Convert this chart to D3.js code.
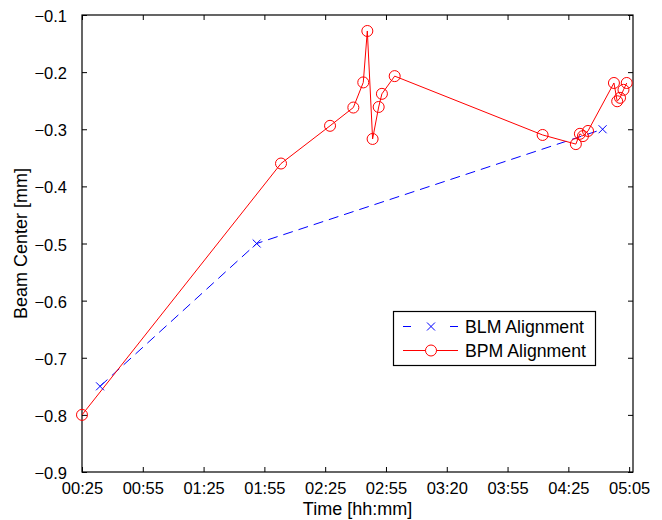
<!DOCTYPE html>
<html>
<head>
<meta charset="utf-8">
<script src="https://cdn.jsdelivr.net/npm/d3@7"></script>
<style>
  body { margin: 0; background: #fff; }
  svg text { font-family: "Liberation Sans", Arial, Helvetica, sans-serif; fill: #000; }
</style>
</head>
<body>
<svg id="chart" width="662" height="520"></svg>
<script>
// ---- data (time in minutes after midnight) ----
const blmTime  = [33.9, 111.2, 281.9];
const blmValue = [-0.75, -0.50, -0.30];

const bpmTime  = [25, 123.2, 147.4, 158.9, 163.8, 165.8, 168.4, 171.4, 173.0, 179.3,
                  252.3, 268.7, 270.7, 272.2, 274.7, 287.5, 289.1, 290.5, 292.2, 293.8];
const bpmValue = [-0.80, -0.36, -0.294, -0.262, -0.218, -0.128, -0.317, -0.261, -0.238, -0.207,
                  -0.310, -0.326, -0.308, -0.312, -0.303, -0.219, -0.251, -0.245, -0.231, -0.219];

const xTickValues = [25, 55, 85, 115, 145, 175, 205, 235, 265, 295];
const xTickLabels = ["00:25", "00:55", "01:25", "01:55", "02:25", "02:55", "03:20", "03:55", "04:25", "05:05"];
const yTickValues = [-0.9, -0.8, -0.7, -0.6, -0.5, -0.4, -0.3, -0.2, -0.1];

const seriesNames = ["BLM Alignment", "BPM Alignment"];

// ---- layout ----
const svg = d3.select("#chart");
const L = 82, R = 633, T = 15, B = 472;
const fsTick = 16.5, fsLabel = 18, fsLegend = 17.7;

const x = d3.scaleLinear().domain([25, 296.9]).range([L, R]);
const y = d3.scaleLinear().domain([-0.9, -0.1]).range([B, T]);

const blm = blmTime.map((t, i) => ({t, v: blmValue[i]}));
const bpm = bpmTime.map((t, i) => ({t, v: bpmValue[i]}));

// ---- axes (MATLAB-like box with inward ticks) ----
const tickLen = 5;
const fmtY = d => d3.format(".1f")(d).replace("-", "\u2212");

const gx = svg.append("g").attr("transform", `translate(0,${B})`)
  .call(d3.axisBottom(x).tickValues(xTickValues)
        .tickFormat((d, i) => xTickLabels[i]).tickSizeInner(-tickLen).tickSizeOuter(0).tickPadding(10));
const gxTop = svg.append("g").attr("transform", `translate(0,${T})`)
  .call(d3.axisTop(x).tickValues(xTickValues).tickFormat("").tickSizeInner(-tickLen).tickSizeOuter(0));
const gy = svg.append("g").attr("transform", `translate(${L},0)`)
  .call(d3.axisLeft(y).tickValues(yTickValues).tickFormat(fmtY).tickSizeInner(-tickLen).tickSizeOuter(0).tickPadding(15));
const gyRight = svg.append("g").attr("transform", `translate(${R},0)`)
  .call(d3.axisRight(y).tickValues(yTickValues).tickFormat("").tickSizeInner(-tickLen).tickSizeOuter(0));

[gx, gxTop, gy, gyRight].forEach(g => {
  g.select(".domain").remove();
  g.selectAll(".tick line").attr("stroke", "#000").attr("stroke-width", 1);
  g.selectAll("text").attr("font-size", fsTick).attr("font-family", null);
});
gy.selectAll("text").attr("dy", "0.40em");

svg.append("rect").attr("x", L).attr("y", T).attr("width", R - L).attr("height", B - T)
  .attr("fill", "none").attr("stroke", "#000").attr("stroke-width", 1.2);

// ---- axis labels ----
svg.append("text").attr("x", (L + R) / 2).attr("y", 515).attr("text-anchor", "middle")
  .attr("font-size", fsLabel).text("Time [hh:mm]");
svg.append("text").attr("transform", `translate(27,${(T + B) / 2}) rotate(-90)`)
  .attr("text-anchor", "middle").attr("font-size", fsLabel).text("Beam Center [mm]");

// ---- lines ----
const line = d3.line().x(d => x(d.t)).y(d => y(d.v));
const plot = svg.append("g");

plot.append("path").datum(blm).attr("d", line)
  .attr("fill", "none").attr("stroke", "#0000ff").attr("stroke-width", 1)
  .attr("stroke-dasharray", "10,6");
plot.append("path").datum(bpm).attr("d", line)
  .attr("fill", "none").attr("stroke", "#ff0000").attr("stroke-width", 1);

const xm = 4;
function xMarker(g, cx, cy) {
  g.append("path").attr("d", `M${cx - xm},${cy - xm}L${cx + xm},${cy + xm}M${cx - xm},${cy + xm}L${cx + xm},${cy - xm}`)
    .attr("stroke", "#0000ff").attr("stroke-width", 1).attr("fill", "none");
}
blm.forEach(d => xMarker(plot, x(d.t), y(d.v)));

plot.selectAll("circle.bpm").data(bpm).join("circle").attr("class", "bpm")
  .attr("cx", d => x(d.t)).attr("cy", d => y(d.v)).attr("r", 5.5)
  .attr("fill", "none").attr("stroke", "#ff0000").attr("stroke-width", 1);

// ---- legend ----
const lg = svg.append("g");
lg.append("rect").attr("x", 393.5).attr("y", 311.5).attr("width", 202).attr("height", 54)
  .attr("fill", "#fff").attr("stroke", "#000").attr("stroke-width", 1.2);
const ly1 = 326.5, ly2 = 350.5;
lg.append("line").attr("x1", 403).attr("x2", 458).attr("y1", ly1).attr("y2", ly1)
  .attr("stroke", "#0000ff").attr("stroke-dasharray", "8,19,0,20,8");
xMarker(lg, 431, ly1);
lg.append("line").attr("x1", 403).attr("x2", 458).attr("y1", ly2).attr("y2", ly2)
  .attr("stroke", "#ff0000");
lg.append("circle").attr("cx", 431).attr("cy", ly2).attr("r", 5.5)
  .attr("fill", "#fff").attr("stroke", "#ff0000");
lg.selectAll("text.leg").data(seriesNames).join("text").attr("class", "leg")
  .attr("x", 465).attr("y", (d, i) => (i === 0 ? ly1 : ly2) + 6.5)
  .attr("font-size", fsLegend).text(d => d);
</script>
</body>
</html>
